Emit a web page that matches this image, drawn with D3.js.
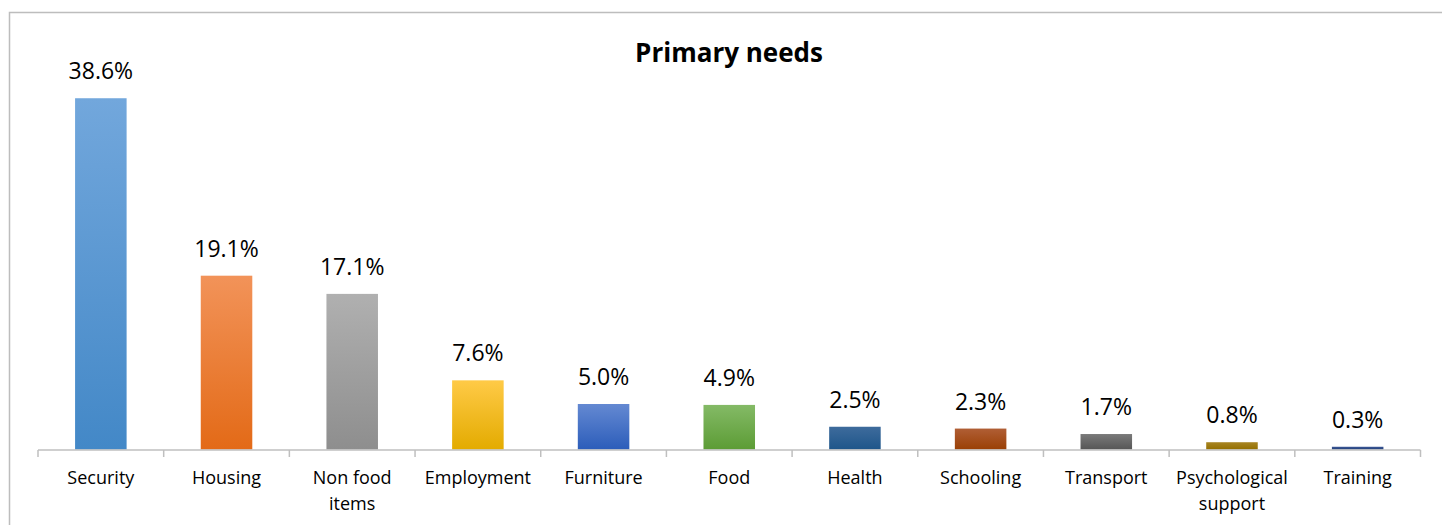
<!DOCTYPE html>
<html>
<head>
<meta charset="utf-8">
<script src="https://cdn.jsdelivr.net/npm/d3@7"></script>
<style>
  html, body { margin: 0; padding: 0; background: #fff; }
  svg { display: block; }
  text { font-family: "Open Sans", "Liberation Sans", sans-serif; fill: #000; }
</style>
</head>
<body>
<svg id="chart" width="1442" height="525"></svg>
<script>
// Share of respondents naming each item as their primary need (%)
const categories = ["Security", "Housing", "Non food items", "Employment", "Furniture",
  "Food", "Health", "Schooling", "Transport", "Psychological support", "Training"];
const values = [38.6, 19.1, 17.1, 7.6, 5.0, 4.9, 2.5, 2.3, 1.7, 0.8, 0.3];
// Wrapped axis labels
const tickLabels = [["Security"], ["Housing"], ["Non food", "items"], ["Employment"], ["Furniture"],
  ["Food"], ["Health"], ["Schooling"], ["Transport"], ["Psychological", "support"], ["Training"]];
// Bar fills: [top, bottom] of the vertical gradient
const barColors = [
  ["#72a7dc", "#4388c7"],
  ["#f29359", "#e36a17"],
  ["#b0b0b0", "#8e8e8e"],
  ["#ffca47", "#e3ab00"],
  ["#6489d2", "#2c5dba"],
  ["#84ba66", "#5c9c35"],
  ["#3e6b9c", "#1e568a"],
  ["#b05e35", "#9a4005"],
  ["#7a7a7a", "#565656"],
  ["#a88523", "#946f00"],
  ["#3c5897", "#223f78"]
];

const svg = d3.select("#chart");

// Chart frame
svg.append("rect")
  .attr("x", 9.5).attr("y", 12.5)
  .attr("width", 1460).attr("height", 540)
  .attr("fill", "none").attr("stroke", "#bdbdbd").attr("stroke-width", 1.5);

svg.append("text")
  .attr("x", 729).attr("y", 62)
  .attr("text-anchor", "middle")
  .style("font-size", "26px").style("font-weight", "bold")
  .text("Primary needs");

const x = d3.scaleBand().domain(categories).range([38, 1420.5]).paddingInner(0.59).paddingOuter(0.295);
const y = d3.scaleLinear().domain([0, 40]).range([449.5, 85.5]);

const defs = svg.append("defs");
barColors.forEach((c, i) => {
  const g = defs.append("linearGradient").attr("id", "g" + i)
    .attr("x1", 0).attr("y1", 0).attr("x2", 0).attr("y2", 1);
  g.append("stop").attr("offset", "0%").attr("stop-color", c[0]);
  g.append("stop").attr("offset", "100%").attr("stop-color", c[1]);
});

svg.append("g").selectAll("rect")
  .data(values)
  .join("rect")
  .attr("x", (d, i) => x(categories[i]))
  .attr("y", d => y(d))
  .attr("width", x.bandwidth())
  .attr("height", d => y(0) - y(d))
  .attr("fill", (d, i) => `url(#g${i})`);

// Value labels
svg.append("g").selectAll("text")
  .data(values)
  .join("text")
  .attr("x", (d, i) => x(categories[i]) + x.bandwidth() / 2)
  .attr("y", d => y(d) - 19)
  .attr("text-anchor", "middle")
  .style("font-size", "23px")
  .text(d => d.toFixed(1) + "%");

// Category axis with ticks between bands
const axisG = svg.append("g");
const edges = d3.range(categories.length + 1).map(i => 38 + i * (1420.5 - 38) / categories.length);
axisG.append("line")
  .attr("x1", 38).attr("x2", 1420.5)
  .attr("y1", 450).attr("y2", 450)
  .attr("stroke", "#bfbfbf").attr("stroke-width", 1.5);
axisG.selectAll("line.tick")
  .data(edges)
  .join("line")
  .attr("class", "tick")
  .attr("x1", d => d).attr("x2", d => d)
  .attr("y1", 450).attr("y2", 457)
  .attr("stroke", "#bfbfbf").attr("stroke-width", 1.5);

const labels = axisG.selectAll("text")
  .data(categories)
  .join("text")
  .attr("x", d => x(d) + x.bandwidth() / 2)
  .attr("y", 484)
  .attr("text-anchor", "middle")
  .style("font-size", "18px");
labels.each(function(d, i) {
  const t = d3.select(this);
  tickLabels[i].forEach((line, j) => {
    t.append("tspan")
      .attr("x", x(d) + x.bandwidth() / 2)
      .attr("dy", j === 0 ? 0 : 26)
      .text(line);
  });
});
</script>
</body>
</html>
